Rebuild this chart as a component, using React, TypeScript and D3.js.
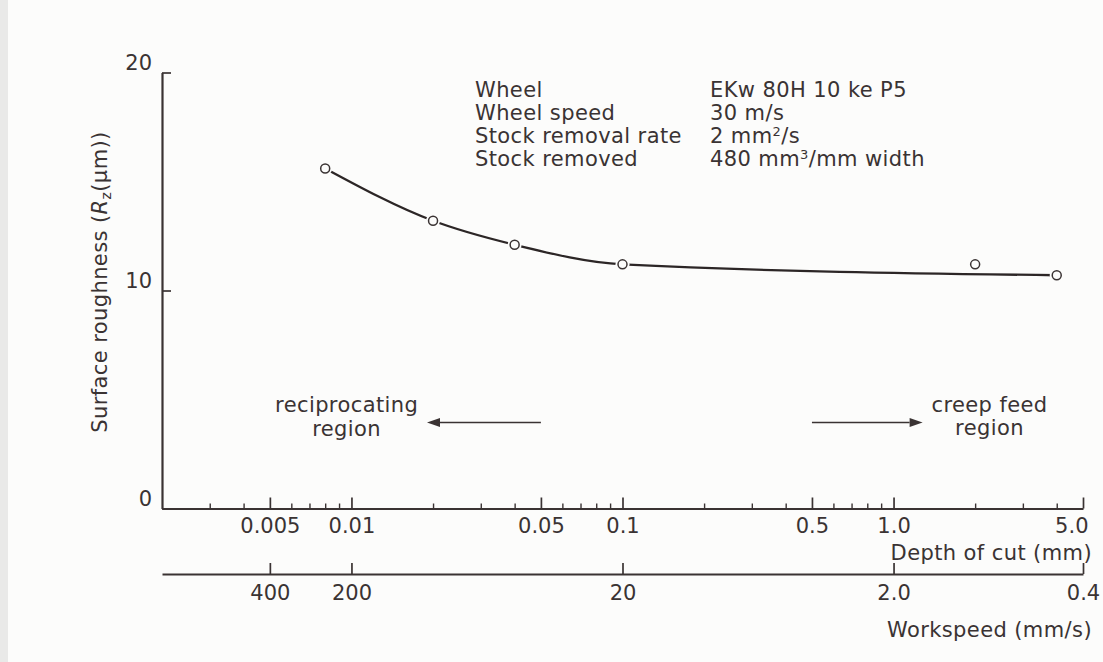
import React, { useEffect, useRef } from "react";
import * as d3 from "d3";

// depth of cut axis (mm), log scale
const depthDomain = [0.002, 5];
const depthMajorTicks = [0.005, 0.01, 0.05, 0.1, 0.5, 1.0, 5.0];
const depthMajorLabels = ["0.005", "0.01", "0.05", "0.1", "0.5", "1.0", "5.0"];
const depthMinorTicks = [
  0.003, 0.004, 0.006, 0.007, 0.008, 0.009,
  0.02, 0.03, 0.04, 0.06, 0.07, 0.08, 0.09,
  0.2, 0.3, 0.4, 0.6, 0.7, 0.8, 0.9,
  2, 3, 4,
];

// workspeed axis (mm/s) = stock removal rate / depth of cut
const stockRemovalRate = 2;
const speedTicks = [400, 200, 20, 2.0, 0.4];
const speedLabels = ["400", "200", "20", "2.0", "0.4"];

const roughnessDomain = [0, 20];
const roughnessTicks = [0, 10, 20];

// measured points
const depths = [0.008, 0.02, 0.04, 0.1, 2.0, 4.0];
const roughness = [15.6, 13.2, 12.1, 11.2, 11.2, 10.7];

// drawn curve (the 2 mm point sits just above it)
const curveDepths = [0.008, 0.02, 0.04, 0.1, 4.0];
const curveRoughness = [15.6, 13.2, 12.1, 11.2, 10.7];

const infoLabels = ["Wheel", "Wheel speed", "Stock removal rate", "Stock removed"];
const infoValues = ["EKw 80H 10 ke P5", "30 m/s", "2 mm^2/s", "480 mm^3/mm width"];

// region arrows: [from depth, to depth], roughness level
const recipArrow = [0.05, 0.019];
const creepArrow = [0.5, 1.28];
const arrowLevel = 3.95;
const recipLines = ["reciprocating", "region"];
const recipTextDepth = 0.0096;
const creepLines = ["creep feed", "region"];
const creepTextDepth = 2.26;

const INK = "#3a3333";
const FONT = "'DejaVu Sans', sans-serif";

export default function App() {
  const ref = useRef<SVGSVGElement>(null);

  useEffect(() => {
    const svg = d3.select(ref.current);
    svg.selectAll("*").remove();

    const width = 1103;
    const height = 662;
    const left = 162;
    const right = 1083;
    const top = 72.5;
    const bottom = 508.5;
    const speedAxisY = 574;

    svg.append("rect").attr("width", width).attr("height", height).attr("fill", "#fcfcfb");
    svg.append("rect").attr("width", 8).attr("height", height).attr("fill", "#e9e9e8");

    const x = d3.scaleLog().domain(depthDomain).range([left, right]);
    const xSpeed = d3
      .scaleLog()
      .domain([stockRemovalRate / depthDomain[0], stockRemovalRate / depthDomain[1]])
      .range([left, right]);
    const y = d3.scaleLinear().domain(roughnessDomain).range([bottom, top]);

    const styleAxis = (g, size) => {
      g.attr("font-family", null).attr("font-size", null);
      g.select(".domain").attr("stroke", INK).attr("stroke-width", 2.2);
      g.selectAll(".tick line").attr("stroke", INK).attr("stroke-width", 1.7);
      g.selectAll(".tick text")
        .attr("fill", INK)
        .style("font-family", FONT)
        .style("font-size", size + "px");
    };

    // y axis
    const yAxis = svg
      .append("g")
      .attr("transform", `translate(${left},0)`)
      .call(
        d3.axisLeft(y)
          .tickValues(roughnessTicks)
          .tickSizeInner(-9)
          .tickSizeOuter(0)
          .tickPadding(10)
          .tickFormat(d3.format("d"))
      );
    styleAxis(yAxis, 21);
    yAxis.selectAll(".tick text").attr("dy", "-0.15em");

    // depth of cut axis
    const minorAxis = svg
      .append("g")
      .attr("transform", `translate(0,${bottom})`)
      .call(d3.axisBottom(x).tickValues(depthMinorTicks).tickSizeInner(-5).tickSizeOuter(0).tickFormat(() => ""));
    minorAxis.select(".domain").remove();
    minorAxis.selectAll(".tick line").attr("stroke", INK).attr("stroke-width", 1.4);

    const depthAxis = svg
      .append("g")
      .attr("transform", `translate(0,${bottom})`)
      .call(
        d3.axisBottom(x)
          .tickValues(depthMajorTicks)
          .tickSizeInner(-11)
          .tickSizeOuter(0)
          .tickPadding(10)
          .tickFormat((d, i) => depthMajorLabels[i])
      );
    styleAxis(depthAxis, 21);
    depthAxis
      .selectAll(".tick text")
      .filter((d, i) => i === depthMajorTicks.length - 1)
      .attr("text-anchor", "end")
      .attr("x", 5);

    // workspeed axis
    const speedAxis = svg
      .append("g")
      .attr("transform", `translate(0,${speedAxisY})`)
      .call(
        d3.axisBottom(xSpeed)
          .tickValues(speedTicks)
          .tickSizeInner(-11)
          .tickSizeOuter(0)
          .tickPadding(11)
          .tickFormat((d, i) => speedLabels[i])
      );
    styleAxis(speedAxis, 21);

    const label = (tx, ty, anchor) =>
      svg
        .append("text")
        .attr("x", tx)
        .attr("y", ty)
        .attr("text-anchor", anchor)
        .attr("fill", INK)
        .style("font-family", FONT)
        .style("font-size", "21px")
        .style("letter-spacing", "0.4px");

    label(1092, 560, "end").text("Depth of cut (mm)");
    label(1092, 637, "end").text("Workspeed (mm/s)");

    // y label with italic R and subscript z
    const yl = label(0, 0, "middle").attr("transform", "translate(107,282) rotate(-90)");
    yl.append("tspan").text("Surface roughness (");
    yl.append("tspan").style("font-style", "italic").text("R");
    yl.append("tspan").attr("dy", 4).style("font-size", "14px").text("z");
    yl.append("tspan").attr("dy", -4).text("(μm))");

    // info block
    infoLabels.forEach((name, i) => {
      const by = 97 + i * 23;
      label(475, by, "start").text(name);
      const t = label(710, by, "start");
      const parts = infoValues[i].split(/\^(\d)/);
      parts.forEach((p, j) => {
        if (j % 2 === 1) {
          t.append("tspan").attr("dy", -7).style("font-size", "13px").text(p);
        } else {
          const s = t.append("tspan").text(p);
          if (j > 0) s.attr("dy", 7);
        }
      });
    });

    // curve
    const points = curveDepths.map((d, i) => [d, curveRoughness[i]]);
    const line = d3
      .line()
      .x((d) => x(d[0]))
      .y((d) => y(d[1]))
      .curve(d3.curveMonotoneX);

    svg
      .append("path")
      .datum(points)
      .attr("fill", "none")
      .attr("stroke", "#2c2626")
      .attr("stroke-width", 2.3)
      .attr("d", line);

    const pts = depths.map((d, i) => [d, roughness[i]]);
    svg
      .append("g")
      .selectAll("circle")
      .data(pts)
      .join("circle")
      .attr("cx", (d) => x(d[0]))
      .attr("cy", (d) => y(d[1]))
      .attr("r", 7)
      .attr("fill", "#fcfcfb");
    svg
      .append("g")
      .selectAll("circle")
      .data(pts)
      .join("circle")
      .attr("cx", (d) => x(d[0]))
      .attr("cy", (d) => y(d[1]))
      .attr("r", 4.5)
      .attr("fill", "#fcfcfb")
      .attr("stroke", INK)
      .attr("stroke-width", 1.5);

    // region arrows
    const drawArrow = (a) => {
      const x0 = x(a[0]);
      const x1 = x(a[1]);
      const ay = y(arrowLevel);
      const dir = x1 > x0 ? 1 : -1;
      const headLen = 13;
      svg
        .append("line")
        .attr("x1", x0)
        .attr("x2", x1 - dir * headLen)
        .attr("y1", ay)
        .attr("y2", ay)
        .attr("stroke", INK)
        .attr("stroke-width", 1.5);
      svg
        .append("path")
        .attr(
          "d",
          `M${x1},${ay} L${x1 - dir * headLen},${ay - 4.5} L${x1 - dir * headLen},${ay + 4.5} Z`
        )
        .attr("fill", INK);
    };
    drawArrow(recipArrow);
    drawArrow(creepArrow);

    const ay = y(arrowLevel);
    recipLines.forEach((s, i) => label(x(recipTextDepth), ay - 10 + i * 24, "middle").text(s));
    creepLines.forEach((s, i) => label(x(creepTextDepth), ay - 10 + i * 23, "middle").text(s));
  }, []);

  return (
    <svg
      ref={ref}
      width={1103}
      height={662}
      style={{ position: "absolute", left: 0, top: 0, display: "block" }}
    />
  );
}
